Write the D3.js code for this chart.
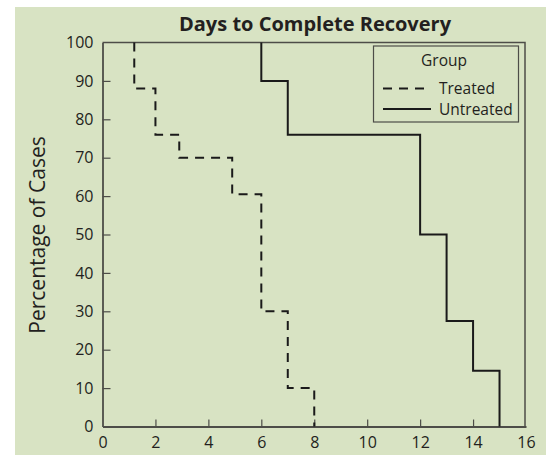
<!DOCTYPE html>
<html>
<head>
<meta charset="utf-8">
<script src="https://cdn.jsdelivr.net/npm/d3@7"></script>
<style>
  body { margin: 0; background: #fff; }
  text { font-family: "Open Sans", "Noto Sans", sans-serif; fill: #231f20; }
</style>
</head>
<body>
<svg id="chart" width="546" height="455"></svg>
<script>
// days at which each group steps down, and the percentage held after each step
const treatedDays = [1.2, 2, 2.9, 4.9, 6, 7, 8];
const treatedPct = [100, 88, 76, 70, 60.5, 30, 10, 0];
const untreatedDays = [6, 7, 12, 13, 14, 15];
const untreatedPct = [100, 90, 76, 50, 27.5, 14.5, 0];

const xTicks = [0, 2, 4, 6, 8, 10, 12, 14, 16];
const yTicks = [0, 10, 20, 30, 40, 50, 60, 70, 80, 90, 100];
const groups = ['Treated', 'Untreated'];

const svg = d3.select('#chart');

svg.append('rect')
	.attr('x', 15).attr('y', 7)
	.attr('width', 531).attr('height', 448)
	.attr('fill', '#d8e3c3');

const x = d3.scaleLinear().domain([0, 16]).range([102.5, 526]);
const y = d3.scaleLinear().domain([0, 100]).range([426.5, 42.5]);

// Build step path: start at top, drop at each day to next level
function stepPoints(days, pct) {
	const pts = [[days[0], pct[0]]];
	days.forEach((d, i) => {
		if (i > 0) pts.push([d, pct[i]]);
		pts.push([d, pct[i + 1]]);
	});
	return pts;
}

const line = d3.line().x(d => x(d[0])).y(d => y(d[1]));

// frame (top and right)
svg.append('path')
	.attr('d', `M${x(0)},${y(100)}H${x(16) - 1}V${y(0)}`)
	.attr('fill', 'none').attr('stroke', '#4d4d48').attr('stroke-width', 1.5);

// axes with inward ticks
const gx = svg.append('g').attr('transform', `translate(0,${y(0)})`)
	.call(d3.axisBottom(x).tickValues(xTicks).tickSizeInner(-7).tickSizeOuter(0).tickPadding(10));
const gy = svg.append('g').attr('transform', `translate(${x(0)},0)`)
	.call(d3.axisLeft(y).tickValues(yTicks).tickSizeInner(-8).tickSizeOuter(0).tickPadding(9));

[gx, gy].forEach(g => {
	g.select('.domain').attr('stroke', '#4d4d48').attr('stroke-width', 1.8);
	g.selectAll('.tick line').attr('stroke', '#4d4d48').attr('stroke-width', 1.2);
	g.selectAll('.tick text').style('font-size', '16px').attr('fill', '#231f20');
});
gx.selectAll('.tick line').filter(d => d === 0 || d === 16).remove();
gy.selectAll('.tick line').filter(d => d === 0 || d === 100).remove();

svg.append('path')
	.attr('d', line(stepPoints(treatedDays, treatedPct)))
	.attr('fill', 'none').attr('stroke', '#1a1a1a')
	.attr('stroke-width', 2).attr('stroke-dasharray', '9,7');

svg.append('path')
	.attr('d', line(stepPoints(untreatedDays, untreatedPct)))
	.attr('fill', 'none').attr('stroke', '#1a1a1a').attr('stroke-width', 2);

svg.append('text')
	.attr('x', 315).attr('y', 31)
	.attr('text-anchor', 'middle')
	.style('font-size', '20px').style('font-weight', 'bold')
	.text('Days to Complete Recovery');

svg.append('text')
	.attr('transform', 'translate(45,235) rotate(-90)')
	.attr('text-anchor', 'middle')
	.style('font-size', '21px')
	.text('Percentage of Cases');

// legend
const lg = svg.append('g');
lg.append('rect')
	.attr('x', 373.5).attr('y', 46).attr('width', 145).attr('height', 76)
	.attr('fill', 'none').attr('stroke', '#4d4d48').attr('stroke-width', 1.2);
lg.append('text')
	.attr('x', 444).attr('y', 66).attr('text-anchor', 'middle')
	.style('font-size', '15.5px').text('Group');
groups.forEach((g, i) => {
	const ly = 88.5 + i * 20.5;
	lg.append('line')
		.attr('x1', 383).attr('x2', i === 0 ? 426 : 431)
		.attr('y1', ly).attr('y2', ly)
		.attr('stroke', '#1a1a1a').attr('stroke-width', 2)
		.attr('stroke-dasharray', i === 0 ? '9,7' : null);
	lg.append('text')
		.attr('x', 439).attr('y', ly + 5.5)
		.style('font-size', '15.5px').text(g);
});
</script>
</body>
</html>
